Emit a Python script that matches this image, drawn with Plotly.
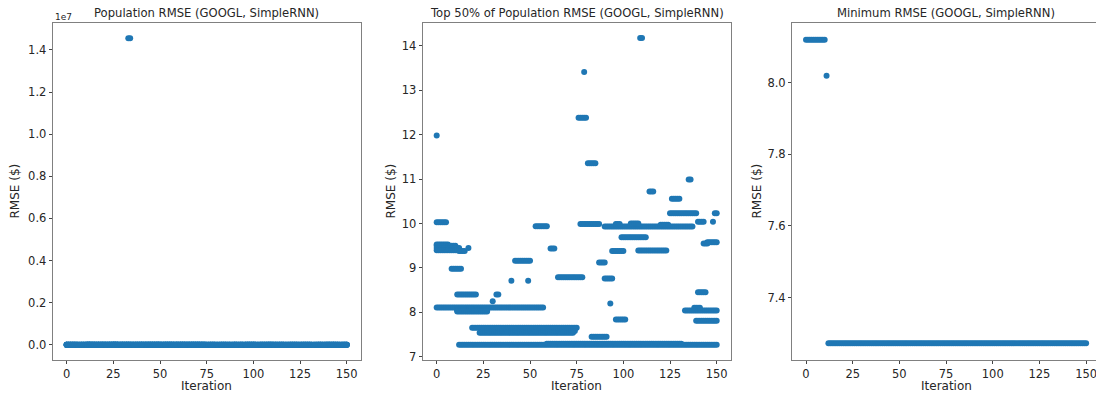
import numpy as np
import plotly.graph_objects as go

# Iteration runs where a population member kept the same RMSE: (first, last, rmse)
top_half_runs = [
    (0, 0, 11.98),
    (0, 5, 10.03),
    (0, 6, 9.53), (0, 10, 9.50), (0, 12, 9.45), (0, 12, 9.40),
    (12, 15, 9.38), (17, 17, 9.45),
    (8, 13, 8.98),
    (11, 21, 8.40), (32, 33, 8.40),
    (30, 30, 8.25),
    (0, 57, 8.11),
    (11, 27, 8.07), (11, 27, 8.04), (11, 27, 8.02),
    (19, 75, 7.65), (25, 74, 7.62), (25, 74, 7.58), (23, 73, 7.54),
    (12, 150, 7.27), (59, 131, 7.29),
    (42, 50, 9.16),
    (40, 40, 8.71), (49, 49, 8.71),
    (53, 59, 9.94),
    (61, 63, 9.44),
    (65, 78, 8.79),
    (76, 80, 12.38),
    (79, 79, 13.41),
    (81, 85, 11.36),
    (109, 110, 14.18),
    (114, 116, 10.72),
    (135, 136, 10.99),
    (126, 130, 10.56),
    (125, 139, 10.23), (149, 150, 10.23),
    (140, 143, 10.04), (148, 148, 10.04),
    (77, 87, 9.99),
    (90, 137, 9.93), (96, 98, 9.99), (104, 108, 10.00), (120, 124, 9.97),
    (99, 112, 9.69),
    (108, 123, 9.39), (94, 100, 9.38),
    (145, 150, 9.58), (143, 145, 9.55),
    (87, 90, 9.12),
    (90, 94, 8.76),
    (93, 93, 8.20),
    (96, 101, 7.84),
    (83, 91, 7.45),
    (140, 144, 8.45),
    (133, 150, 8.04), (138, 141, 8.10),
    (139, 150, 7.81),
]

# Diverged members that appear in the full population
outlier_runs = [(33, 34, 1.455e7)]

# Best RMSE per iteration
minimum_runs = [(0, 10, 8.119), (11, 11, 8.019), (12, 150, 7.273)]

pop_ticks = [0.0, 0.2, 0.4, 0.6, 0.8, 1.0, 1.2, 1.4]
top_ticks = [7, 8, 9, 10, 11, 12, 13, 14]
min_ticks = [7.4, 7.6, 7.8, 8.0]
iter_ticks = [0, 25, 50, 75, 100, 125, 150]

titles = [
    "Population RMSE (GOOGL, SimpleRNN)",
    "Top 50% of Population RMSE (GOOGL, SimpleRNN)",
    "Minimum RMSE (GOOGL, SimpleRNN)",
]


def expand(runs):
    xs, ys = [], []
    for first, last, val in runs:
        its = np.arange(first, last + 1)
        xs.extend(its.tolist())
        ys.extend([val] * len(its))
    return xs, ys


W, H = 1096, 394
BLUE = "#1f77b4"
TXT = "#262626"
FONT = "DejaVu Sans"

x_top, y_top = expand(top_half_runs)
x_out, y_out = expand(outlier_runs)
x_pop, y_pop = x_top + x_out, y_top + y_out
x_min, y_min = expand(minimum_runs)

# panel frames in pixels (left, right); shared top/bottom
frames = [(52.7, 360.7), (422.7, 730.7), (792.0, 1096.0)]
top_px, bot_px = 23.0, 360.0
ydom = [1 - bot_px / H, 1 - top_px / H]

fig = go.Figure()
marker = dict(color=BLUE, size=6, line=dict(width=0))
fig.add_trace(go.Scatter(x=x_pop, y=y_pop, mode="markers", marker=marker,
                         xaxis="x", yaxis="y", showlegend=False))
fig.add_trace(go.Scatter(x=x_top, y=y_top, mode="markers", marker=marker,
                         xaxis="x2", yaxis="y2", showlegend=False))
fig.add_trace(go.Scatter(x=x_min, y=y_min, mode="markers", marker=marker,
                         xaxis="x3", yaxis="y3", showlegend=False))

axis_common = dict(
    showgrid=False, zeroline=False, showline=True, linecolor="#808080",
    linewidth=1, ticks="outside", ticklen=3, tickwidth=1, tickcolor="#444",
    tickfont=dict(family=FONT, size=11.5, color=TXT), automargin=False,
    ticklabeloverflow="allow",
)

x_ranges = [[-7.5, 157.5], [-7.5, 157.5], [-7.5, 155.3]]
y_ranges = [[-0.0728e7, 1.528e7], [6.926, 14.516], [7.226, 8.166]]
y_tickvals = [[t * 1e7 for t in pop_ticks], top_ticks, min_ticks]
y_ticktext = [[f"{t:.1f}" for t in pop_ticks], [str(t) for t in top_ticks],
              [f"{t:.1f}" for t in min_ticks]]

layout = {}
for i in range(3):
    sx = "" if i == 0 else str(i + 1)
    l, r = frames[i]
    layout["xaxis" + sx] = dict(
        axis_common, domain=[l / W, r / W], range=x_ranges[i],
        tickvals=iter_ticks, mirror=True, anchor="y" + sx,
    )
    layout["yaxis" + sx] = dict(
        axis_common, domain=ydom, range=y_ranges[i],
        tickvals=y_tickvals[i], ticktext=y_ticktext[i],
        mirror=(i < 2), anchor="x" + sx,
    )

annotations = []
ylabel_x = [14, 390, 756]
for i in range(3):
    l, r = frames[i]
    cx = (l + r) / 2 if i < 2 else (l + 1100) / 2
    annotations.append(dict(
        text=titles[i], x=cx / W, y=1 - 13 / H, xref="paper", yref="paper",
        showarrow=False, xanchor="center", yanchor="middle",
        font=dict(family=FONT, size=11.6, color=TXT),
    ))
    annotations.append(dict(
        text="Iteration", x=cx / W, y=1 - 386 / H, xref="paper", yref="paper",
        showarrow=False, xanchor="center", yanchor="middle", height=12,
        borderpad=0, font=dict(family=FONT, size=12, color=TXT),
    ))
    annotations.append(dict(
        text="RMSE ($)", x=ylabel_x[i] / W, y=1 - 191.5 / H, xref="paper",
        yref="paper", showarrow=False, xanchor="center", yanchor="middle",
        textangle=-90, font=dict(family=FONT, size=12, color=TXT),
    ))
annotations.append(dict(
    text="1e7", x=53 / W, y=1 - 17 / H, xref="paper", yref="paper",
    showarrow=False, xanchor="left", yanchor="middle",
    font=dict(family=FONT, size=9, color=TXT),
))

fig.update_layout(
    width=W, height=H, margin=dict(l=0, r=0, t=0, b=0),
    paper_bgcolor="white", plot_bgcolor="white",
    annotations=annotations, **layout,
)

fig.write_html("out.html")
